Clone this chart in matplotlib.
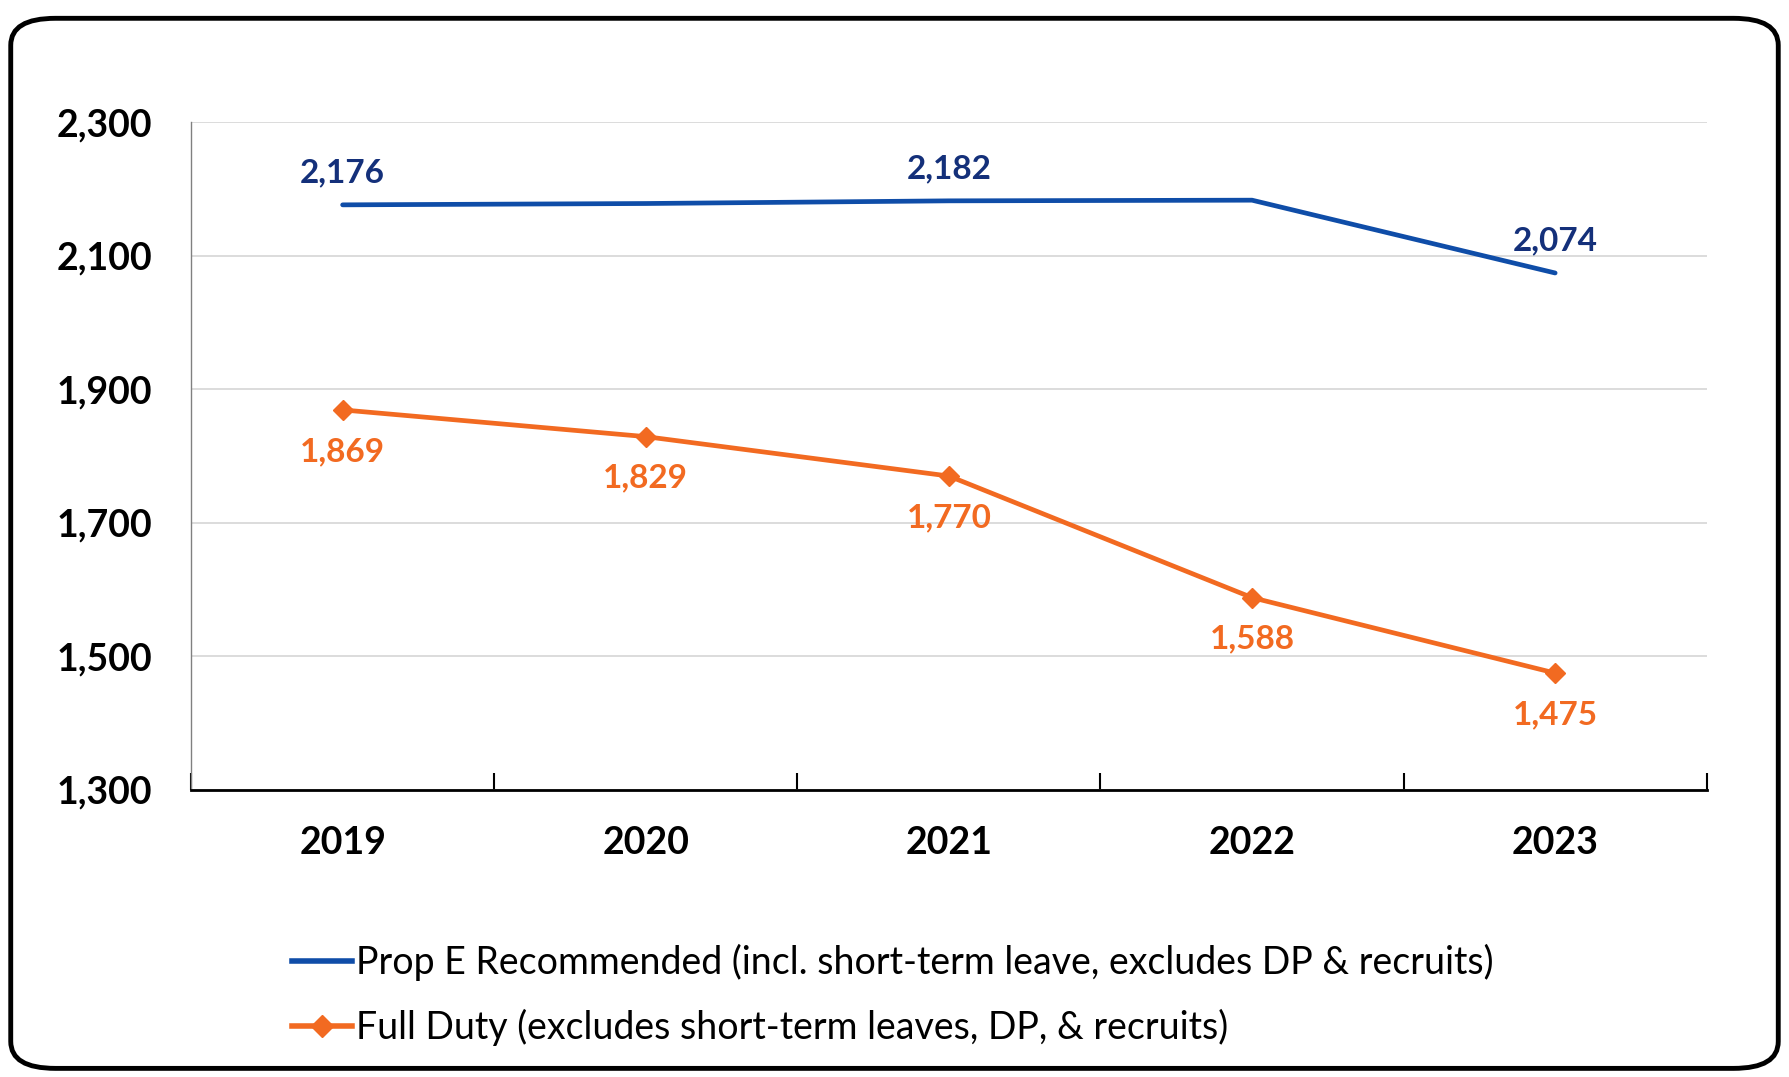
import matplotlib
matplotlib.use("Agg")
from matplotlib import pyplot as plt
from matplotlib.patches import FancyBboxPatch
from matplotlib.lines import Line2D
from matplotlib.ticker import FuncFormatter

years = ["2019", "2020", "2021", "2022", "2023"]
prop_e = [2176, 2178, 2182, 2183, 2074]
prop_e_labels = {0: "2,176", 2: "2,182", 4: "2,074"}
full_duty = [1869, 1829, 1770, 1588, 1475]
y_ticks = [1300, 1500, 1700, 1900, 2100, 2300]

blue_line = "#0F4DA8"
blue_text = "#14307A"
orange = "#F26A21"

plt.rcParams['font.family'] = ['Lato', 'DejaVu Sans']

fig = plt.figure(figsize=(17.89, 10.77), dpi=100)
ax = fig.add_axes([0.1068, 0.2665, 0.954 - 0.1068, 0.8867 - 0.2665])

x = list(range(len(years)))
ax.plot(x, prop_e, color=blue_line, lw=3.4, solid_capstyle='round', zorder=3)
ax.plot(x, full_duty, color=orange, lw=3.4, marker='D', markersize=10, zorder=3)

for i, lab in prop_e_labels.items():
    ax.annotate(lab, (x[i], prop_e[i]), xytext=(0, 23), textcoords='offset points',
                ha='center', va='center', fontsize=24, fontweight='bold', color=blue_text)
for i, v in enumerate(full_duty):
    ax.annotate(f"{v:,}", (x[i], v), xytext=(0, -30), textcoords='offset points',
                ha='center', va='center', fontsize=24, fontweight='bold', color=orange)

ax.set_xlim(-0.5, len(years) - 0.5)
ax.set_ylim(1300, 2300)
ax.set_yticks(y_ticks)
ax.yaxis.set_major_formatter(FuncFormatter(lambda v, p: f"{int(v):,}"))
ax.grid(axis='y', color='#D9D9D9', lw=1.3)
ax.set_axisbelow(True)

ax.set_xticks(x)
ax.set_xticklabels(years)
ax.set_xticks([i - 0.5 for i in range(len(years) + 1)], minor=True)
ax.tick_params(axis='x', which='major', length=0, pad=26, labelsize=27)
ax.tick_params(axis='x', which='minor', direction='in', length=12, width=1.5, color='black')
ax.tick_params(axis='y', length=0, pad=28, labelsize=27)
for t in ax.get_xticklabels() + ax.get_yticklabels():
    t.set_fontweight('bold')

for s in ['top', 'right']:
    ax.spines[s].set_visible(False)
ax.spines['left'].set_color('#808080')
ax.spines['left'].set_linewidth(1.0)
ax.spines['bottom'].set_color('black')
ax.spines['bottom'].set_linewidth(2.0)

handles = [
    Line2D([], [], color=blue_line, lw=4),
    Line2D([], [], color=orange, lw=4, marker='D', markersize=11),
]
labels = [
    "Prop E Recommended (incl. short-term leave, excludes DP & recruits)",
    "Full Duty (excludes short-term leaves, DP, & recruits)",
]
fig.legend(handles, labels, loc='center left', bbox_to_anchor=(0.155, 0.076),
           frameon=False, fontsize=27, handlelength=1.6, handletextpad=0.1,
           labelspacing=0.75, borderaxespad=0)

frame = FancyBboxPatch((0.006, 0.008), 0.988, 0.975, transform=fig.transFigure,
                       boxstyle="round,pad=0,rounding_size=0.025",
                       fill=False, edgecolor='black', lw=3.5)
fig.patches.append(frame)

fig.savefig("out.png", dpi=100)
